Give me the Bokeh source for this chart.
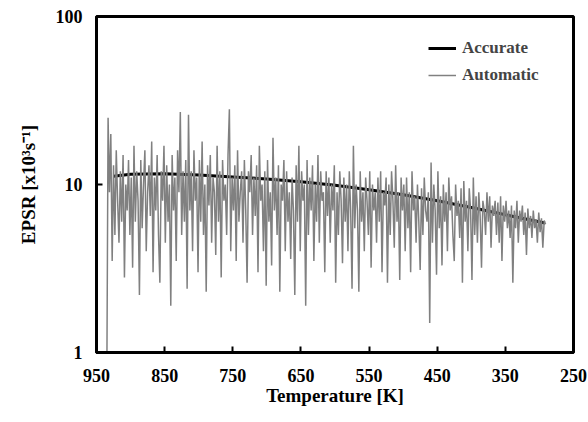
from bokeh.plotting import figure
from bokeh.embed import file_html
from bokeh.resources import INLINE
from bokeh.models import Range1d, FixedTicker, Legend, LegendItem

# Accurate curve
acc_T = [925, 900, 850, 800, 750, 700, 650, 600, 550, 500, 450, 400, 350, 292]
acc_v = [11.2, 11.5, 11.6, 11.4, 11.1, 10.8, 10.4, 9.9, 9.3, 8.7, 8.0, 7.3, 6.6, 5.9]

# Automatic (noisy) series, temperatures in K
auto_T = [
    935, 933, 931, 929, 927, 925, 923, 921, 919, 917, 915, 913, 911, 909, 907, 905, 903, 901, 899, 897,
    895, 893, 891, 889, 887, 885, 883, 881, 879, 877, 875, 873, 871, 869, 867, 865, 863, 861, 859, 857,
    855, 853, 851, 849, 847, 845, 843, 841, 839, 837, 835, 833, 831, 829, 827, 825, 823, 821, 819, 817,
    815, 813, 811, 809, 807, 805, 803, 801, 799, 797, 795, 793, 791, 789, 787, 785, 783, 781, 779, 777,
    775, 773, 771, 769, 767, 765, 763, 761, 759, 757, 755, 753, 751, 749, 747, 745, 743, 741, 739, 737,
    735, 733, 731, 729, 727, 725, 723, 721, 719, 717, 715, 713, 711, 709, 707, 705, 703, 701, 699, 697,
    695, 693, 691, 689, 687, 685, 683, 681, 679, 677, 675, 673, 671, 669, 667, 665, 663, 661, 659, 657,
    655, 653, 651, 649, 647, 645, 643, 641, 639, 637, 635, 633, 631, 629, 627, 625, 623, 621, 619, 617,
    615, 613, 611, 609, 607, 605, 603, 601, 599, 597, 595, 593, 591, 589, 587, 585, 583, 581, 579, 577,
    575, 573, 571, 569, 567, 565, 563, 561, 559, 557, 555, 553, 551, 549, 547, 545, 543, 541, 539, 537,
    535, 533, 531, 529, 527, 525, 523, 521, 519, 517, 515, 513, 511, 509, 507, 505, 503, 501, 499, 497,
    495, 493, 491, 489, 487, 485, 483, 481, 479, 477, 475, 473, 471, 469, 467, 465, 463, 461, 459, 457,
    455, 453, 451, 449, 447, 445, 443, 441, 439, 437, 435, 433, 431, 429, 427, 425, 423, 421, 419, 417,
    415, 413, 411, 409, 407, 405, 403, 401, 399, 397, 395, 393, 391, 389, 387, 385, 383, 381, 379, 377,
    375, 373, 371, 369, 367, 365, 363, 361, 359, 357, 355, 353, 351, 349, 347, 345, 343, 341, 339, 337,
    335, 333, 331, 329, 327, 325, 323, 321, 319, 317, 315, 313, 311, 309, 307, 305, 303, 301, 299, 297,
    295, 293, 291,
]
auto_v = [
    0.5, 25, 9, 20, 3.5, 13, 5, 16, 8, 4.5, 12, 6, 15, 2.8, 10, 7, 14, 5, 11, 3.2,
    17, 6, 12, 8, 2.2, 14, 5.5, 10, 16, 4, 9, 13, 6.5, 18, 3, 11, 7, 15, 5, 2.6,
    12, 8, 17, 4.5, 13, 6, 10, 1.9, 15, 7, 11, 3.5, 16, 9, 27, 5, 12, 6, 14, 2.4,
    26, 7, 12, 4, 16, 8, 11, 3, 14, 6, 18, 5, 10, 2.3, 13, 7.5, 15, 4.5, 11, 9,
    3.8, 17, 6, 12, 2.8, 14, 8, 10, 5, 15, 28, 4, 11, 7, 13, 3.5, 16, 6, 9, 12,
    4.5, 14, 7, 2.6, 12, 9, 15, 5, 11, 6.5, 13, 3, 17, 8, 10, 4, 12, 2.5, 14, 6,
    9, 3.3, 19, 7, 11, 5, 13, 2.3, 10, 8, 14, 4, 12, 6, 9, 3.6, 11, 7, 2.2, 13,
    6, 17, 4, 12, 8, 10, 1.9, 14, 5, 11, 7, 13, 3.5, 10, 6, 15, 4.5, 12, 8, 9,
    3, 12, 6.5, 11, 4.5, 10, 7, 13, 2.6, 9, 5, 12, 8, 3.4, 11, 6, 10, 4, 12, 7,
    2.4, 17, 5.5, 10, 7, 2.3, 12, 6, 9, 4, 11, 8, 5, 12, 3.2, 10, 7, 9, 4.5, 11,
    6, 12, 3, 9, 7.5, 11, 2.6, 10, 5, 12, 8, 4.2, 13, 6, 9, 2.7, 11, 7, 10, 4,
    11, 5.5, 9, 3, 12, 7, 8.5, 4.5, 10, 6, 3.1, 9.5, 5, 11, 7, 6, 9, 1.5, 13.5, 4.5,
    10, 7, 2.9, 12, 5.5, 8.5, 3.3, 10, 6, 9, 4, 11, 7, 8.5, 5, 3.5, 10, 6.5, 8, 4.8,
    9.5, 2.6, 10.5, 6, 8, 4, 9.5, 7, 2.7, 11, 5, 8.5, 4.5, 9, 6.5, 3.2, 8, 7, 5, 9,
    6, 8.5, 4.2, 7.5, 6.5, 8, 5, 7.8, 4.5, 8.5, 3.5, 7.5, 6, 8, 5.5, 7, 4.8, 7.5, 2.6, 7,
    5.5, 8, 4.5, 7, 6, 7.5, 5, 6.8, 3.8, 7.2, 5.5, 6.5, 4.8, 7, 5.5, 6.2, 4.5, 6.8, 5.2, 6.3,
    4.2, 6.1, 5.8,
]

x_ticks = [950, 850, 750, 650, 550, 450, 350, 250]
y_ticks = [1, 10, 100]

FONT = "Liberation Serif"

p = figure(width=588, height=422, output_backend="svg", toolbar_location=None,
           y_axis_type="log",
           x_range=Range1d(950, 250), y_range=Range1d(1, 100),
           min_border_left=96, min_border_right=15, min_border_top=16,
           min_border_bottom=70)
p.background_fill_color = "white"
p.border_fill_color = "white"
p.outline_line_color = "black"
p.outline_line_width = 3
p.grid.visible = False

r_acc = p.line(acc_T, acc_v, line_color="black", line_width=3)
r_auto = p.line(auto_T, auto_v, line_color="#808080", line_width=1.5)

for ax in (p.xaxis[0], p.yaxis[0]):
    ax.axis_line_width = 3
    ax.axis_line_color = "black"
    ax.major_tick_in = 6
    ax.major_tick_out = 0
    ax.major_tick_line_width = 2
    ax.minor_tick_line_color = None
    ax.major_label_text_font = FONT
    ax.major_label_text_font_style = "bold"
    ax.major_label_text_font_size = "18px"
    ax.major_label_text_color = "black"
    ax.axis_label_text_font = FONT
    ax.axis_label_text_font_style = "bold"
    ax.axis_label_text_font_size = "19px"
    ax.axis_label_text_color = "black"

p.xaxis.ticker = FixedTicker(ticks=x_ticks)
p.yaxis.ticker = FixedTicker(ticks=y_ticks)
p.yaxis.major_label_overrides = {1: "1", 10: "10", 100: "100"}
p.xaxis.major_label_standoff = 16
p.yaxis.major_label_standoff = 14
p.xaxis.axis_label = "Temperature [K]"
p.yaxis.axis_label = "EPSR [x10³s⁻¹]"
p.xaxis.axis_label_standoff = 0
p.yaxis.axis_label_standoff = 14

legend = Legend(items=[LegendItem(label="Accurate", renderers=[r_acc]),
                       LegendItem(label="Automatic", renderers=[r_auto])],
                location=(332, 267))
legend.border_line_color = None
legend.background_fill_alpha = 0
legend.padding = 0
legend.margin = 0
legend.spacing = 7
legend.glyph_width = 28
legend.glyph_height = 20
legend.label_height = 20
legend.label_standoff = 6
legend.label_text_font = FONT
legend.label_text_font_style = "bold"
legend.label_text_font_size = "17px"
p.add_layout(legend)

open("out.html", "w").write(file_html(p, INLINE))
